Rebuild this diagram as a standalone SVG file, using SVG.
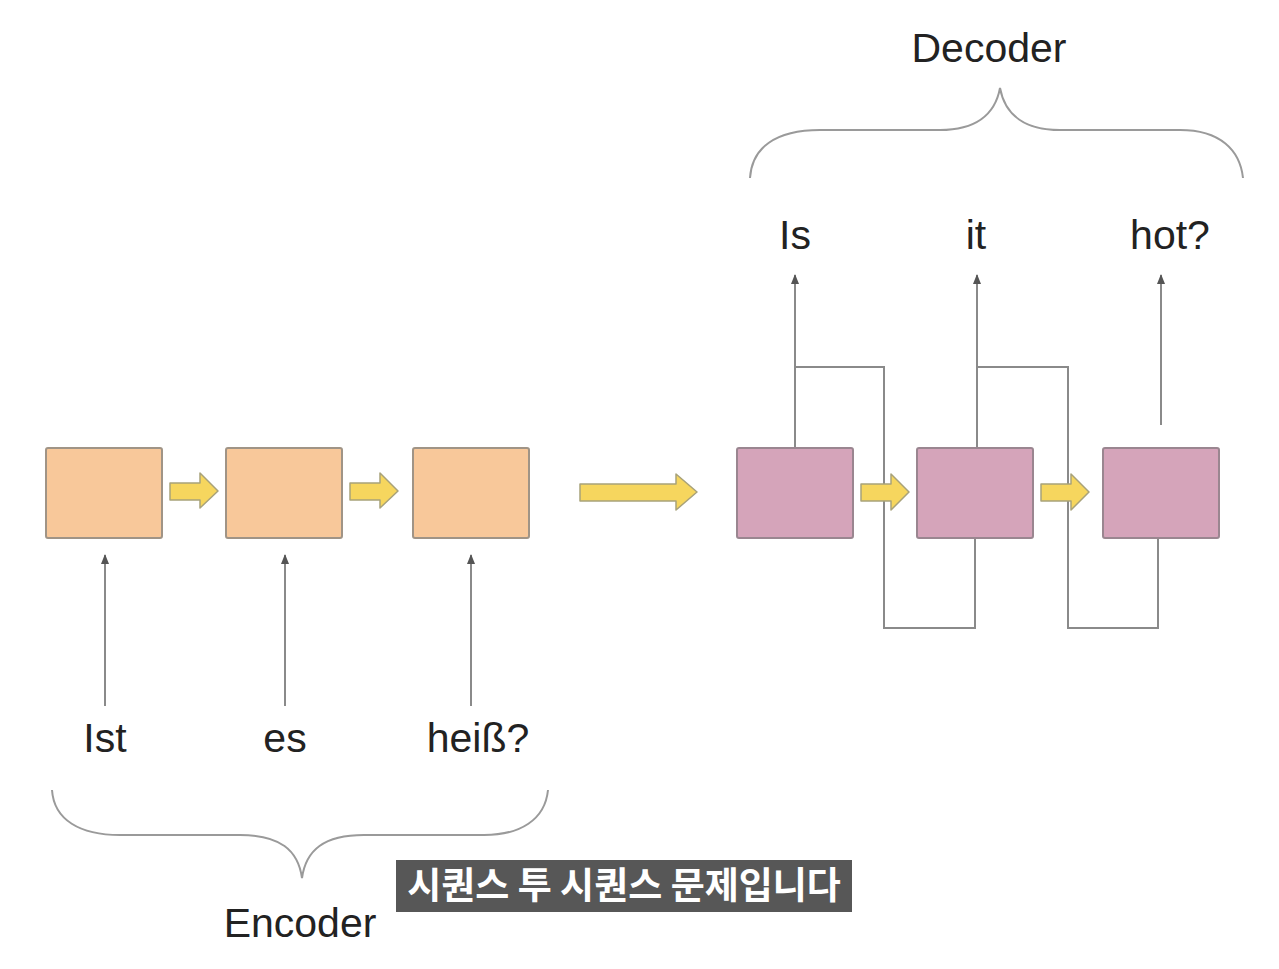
<svg xmlns="http://www.w3.org/2000/svg" width="1279" height="969" viewBox="0 0 1279 969">
<defs>
<style>
.enc{fill:#F8C89A;stroke:#A09486;stroke-width:2}
.dec{fill:#D5A4BA;stroke:#9A8690;stroke-width:2}
.ya{fill:#F6D65E;stroke:#A8A27A;stroke-width:1.5;stroke-linejoin:round}
.ln{fill:none;stroke:#8A8A8A;stroke-width:2}
.br{fill:none;stroke:#9A9A9A;stroke-width:2}
.lbl{font-family:"Liberation Sans",Arial,sans-serif;font-size:41px;fill:#222;text-anchor:middle}
.sub{font-family:"Noto Sans CJK KR","Noto Sans",sans-serif;font-size:37px;font-weight:bold;fill:#fff;text-anchor:middle}
</style>
<marker id="ah" markerWidth="10" markerHeight="10" refX="9" refY="5" orient="auto" markerUnits="userSpaceOnUse" viewBox="0 0 10 10">
<path d="M0,1 L10,5 L0,9 Z" fill="#555"/>
</marker>
</defs>
<rect width="1279" height="969" fill="#fff"/>

<g id="connectors">
<line class="ln" x1="105" y1="706" x2="105" y2="555" marker-end="url(#ah)"/>
<line class="ln" x1="285" y1="706" x2="285" y2="555" marker-end="url(#ah)"/>
<line class="ln" x1="471" y1="706" x2="471" y2="555" marker-end="url(#ah)"/>
<line class="ln" x1="795" y1="448" x2="795" y2="275" marker-end="url(#ah)"/>
<line class="ln" x1="977" y1="448" x2="977" y2="275" marker-end="url(#ah)"/>
<line class="ln" x1="1161" y1="425" x2="1161" y2="275" marker-end="url(#ah)"/>
<polyline class="ln" points="795,367 884,367 884,628 975,628 975,538"/>
<polyline class="ln" points="977,367 1068,367 1068,628 1158,628 1158,538"/>
<path class="ya" d="M170,483 L200,483 L200,473 L218,491 L200,508 L200,500 L170,500 Z"/>
<path class="ya" d="M350,483 L380,483 L380,473 L398,491 L380,508 L380,500 L350,500 Z"/>
<path class="ya" d="M580,484 L676,484 L676,474 L697,492 L676,510 L676,501 L580,501 Z"/>
<path class="ya" d="M861,484 L891,484 L891,474 L909,492 L891,510 L891,501 L861,501 Z"/>
<path class="ya" d="M1041,484 L1071,484 L1071,474 L1089,492 L1071,510 L1071,501 L1041,501 Z"/>
</g>

<g id="enc1"><rect class="enc" x="46" y="448" width="116" height="90" rx="2"/></g>
<g id="enc2"><rect class="enc" x="226" y="448" width="116" height="90" rx="2"/></g>
<g id="enc3"><rect class="enc" x="413" y="448" width="116" height="90" rx="2"/></g>
<g id="dec1"><rect class="dec" x="737" y="448" width="116" height="90" rx="2"/></g>
<g id="dec2"><rect class="dec" x="917" y="448" width="116" height="90" rx="2"/></g>
<g id="dec3"><rect class="dec" x="1103" y="448" width="116" height="90" rx="2"/></g>

<g id="labels">
<text class="lbl" x="105" y="752">Ist</text>
<text class="lbl" x="285" y="752">es</text>
<text class="lbl" x="478" y="752">heiß?</text>
<text class="lbl" x="795" y="249">Is</text>
<text class="lbl" x="976" y="249">it</text>
<text class="lbl" x="1170" y="249">hot?</text>
</g>

<g id="decoder-brace">
<path class="br" d="M750,178 C752,148 775,130 820,130 L940,130 C975,130 995,115 1000,88 C1005,115 1025,130 1060,130 L1180,130 C1220,130 1240,150 1243,178"/>
<text class="lbl" x="989" y="62">Decoder</text>
</g>

<g id="encoder-brace">
<path class="br" d="M52,790 C54,820 80,835 120,835 L240,835 C280,835 298,850 302,878 C306,850 324,835 364,835 L484,835 C520,835 545,820 548,790"/>
<text class="lbl" x="300" y="937">Encoder</text>
</g>

<g id="subtitle">
<rect x="396" y="860" width="456" height="52" fill="#575757"/>
<text class="sub" x="624" y="899">시퀀스 투 시퀀스 문제입니다</text>
</g>
</svg>
